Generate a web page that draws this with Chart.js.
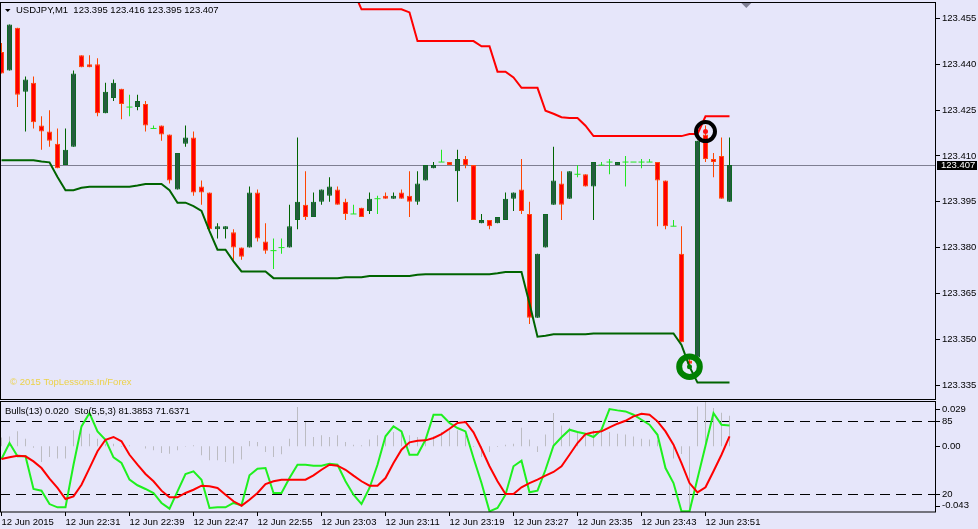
<!DOCTYPE html>
<html>
<head>
<meta charset="utf-8">
<title>USDJPY,M1</title>
<script src="https://cdn.jsdelivr.net/npm/chart.js@4.4.1/dist/chart.umd.min.js"></script>
<style>
  html, body { margin: 0; padding: 0; background: #e6e6fa; }
  #wrap { position: relative; width: 978px; height: 529px; overflow: hidden; }
  canvas { position: absolute; left: 0; }
  #main { top: 0; }
  #sub { top: 400px; }
</style>
</head>
<body>
<div id="wrap">
  <canvas id="main" width="978" height="400"></canvas>
  <canvas id="sub" width="978" height="129"></canvas>
</div>
<script>
// USDJPY 1-minute bars, 12 Jun 2015 22:23 .. 23:54
const symbol = "USDJPY,M1";

const opens = [
  123.444, 123.438, 123.452, 123.431, 123.434, 123.420, 123.418, 123.414, 123.407, 123.413,
  123.443, 123.440, 123.440, 123.424, 123.429, 123.432, 123.426, 123.426, 123.427, 123.419,
  123.420, 123.417, 123.399, 123.414, 123.416, 123.400, 123.398, 123.386, 123.386, 123.385,
  123.380, 123.380, 123.398, 123.382, 123.379, 123.380, 123.380, 123.389, 123.394, 123.390,
  123.395, 123.397, 123.399, 123.395, 123.391, 123.393, 123.392, 123.396, 123.397, 123.396,
  123.398, 123.397, 123.395, 123.402, 123.406, 123.408, 123.408, 123.405, 123.409, 123.407,
  123.388, 123.389, 123.388, 123.389, 123.396, 123.399, 123.391, 123.357, 123.380, 123.394,
  123.401, 123.396, 123.404, 123.404, 123.400, 123.407, 123.408, 123.407, 123.408, 123.408,
  123.408, 123.408, 123.408, 123.402, 123.387, 123.378, 123.343, 123.344, 123.417, 123.409,
  123.410, 123.395
];
const highs = [
  123.447, 123.453, 123.452, 123.436, 123.436, 123.423, 123.425, 123.419, 123.419, 123.438,
  123.443, 123.443, 123.442, 123.434, 123.435, 123.432, 123.430, 123.430, 123.428, 123.420,
  123.420, 123.417, 123.411, 123.420, 123.418, 123.402, 123.398, 123.388, 123.387, 123.386,
  123.380, 123.400, 123.399, 123.388, 123.383, 123.383, 123.394, 123.416, 123.405, 123.398,
  123.399, 123.403, 123.400, 123.396, 123.394, 123.393, 123.398, 123.397, 123.398, 123.398,
  123.399, 123.405, 123.405, 123.407, 123.408, 123.412, 123.408, 123.412, 123.410, 123.407,
  123.391, 123.389, 123.390, 123.398, 123.398, 123.409, 123.395, 123.378, 123.391, 123.413,
  123.405, 123.405, 123.407, 123.404, 123.408, 123.408, 123.409, 123.408, 123.410, 123.408,
  123.409, 123.409, 123.408, 123.402, 123.389, 123.387, 123.344, 123.415, 123.420, 123.411,
  123.416, 123.416
];
const lows = [
  123.437, 123.438, 123.426, 123.418, 123.419, 123.412, 123.413, 123.406, 123.407, 123.413,
  123.439, 123.439, 123.423, 123.424, 123.428, 123.422, 123.423, 123.425, 123.418, 123.419,
  123.415, 123.401, 123.399, 123.413, 123.397, 123.394, 123.385, 123.383, 123.383, 123.376,
  123.376, 123.380, 123.382, 123.378, 123.373, 123.378, 123.380, 123.386, 123.389, 123.390,
  123.394, 123.395, 123.394, 123.389, 123.391, 123.390, 123.391, 123.391, 123.396, 123.396,
  123.396, 123.390, 123.394, 123.402, 123.406, 123.408, 123.407, 123.395, 123.406, 123.389,
  123.388, 123.386, 123.388, 123.389, 123.392, 123.391, 123.355, 123.357, 123.380, 123.394,
  123.389, 123.396, 123.403, 123.400, 123.389, 123.407, 123.404, 123.407, 123.400, 123.408,
  123.406, 123.408, 123.387, 123.386, 123.387, 123.349, 123.341, 123.343, 123.408, 123.403,
  123.396, 123.395
];
const closes = [
  123.437, 123.453, 123.430, 123.435, 123.421, 123.418, 123.415, 123.406, 123.412, 123.437,
  123.439, 123.439, 123.424, 123.431, 123.434, 123.427, 123.426, 123.428, 123.420, 123.419,
  123.417, 123.402, 123.411, 123.416, 123.398, 123.398, 123.386, 123.387, 123.387, 123.380,
  123.377, 123.398, 123.383, 123.379, 123.379, 123.380, 123.387, 123.395, 123.390, 123.395,
  123.399, 123.400, 123.394, 123.391, 123.391, 123.390, 123.396, 123.396, 123.396, 123.397,
  123.396, 123.395, 123.401, 123.407, 123.407, 123.408, 123.407, 123.409, 123.407, 123.389,
  123.389, 123.387, 123.390, 123.396, 123.398, 123.392, 123.357, 123.378, 123.391, 123.402,
  123.394, 123.405, 123.404, 123.400, 123.408, 123.407, 123.408, 123.408, 123.408, 123.408,
  123.408, 123.408, 123.402, 123.387, 123.387, 123.349, 123.342, 123.415, 123.409, 123.408,
  123.396, 123.407
];

// channel lines
const upperBand = [
  null, null, null, null, null, null, null, null, null, null, null,
  null, null, null, null, null, null, null, null, null, null, null,
  null, null, null, null, null, null, null, null, null, null, null,
  null, null, null, null, null, null, null, null, null, null, null,
  123.464, 123.458, 123.458, 123.458, 123.458, 123.458, 123.458, 123.457,
  123.4476, 123.4476, 123.4476, 123.4476, 123.4476, 123.4476, 123.4476, 123.4476,
  123.4459, 123.4459, 123.4376, 123.4376, 123.4357, 123.4323, 123.4323, 123.4323,
  123.4248, 123.4238, 123.4227, 123.4224, 123.4224, 123.4199,
  123.4165, 123.4165, 123.4165, 123.4165, 123.4165, 123.4165,
  123.4165, 123.4165, 123.4165, 123.4165, 123.4165, 123.4165,
  123.4172, 123.4172, 123.423, 123.423, 123.423, 123.423
];
const lowerBand = [
  123.4086, 123.4086, 123.4086, 123.4086, 123.4086, 123.4082, 123.4079, 123.4031, 123.3988, 123.3988,
  123.3996, 123.3999, 123.3999, 123.3999, 123.3999, 123.3999, 123.3999, 123.4003, 123.4008, 123.4008,
  123.4008, 123.3988, 123.3947, 123.3947, 123.3936, 123.392, 123.3854, 123.3793, 123.3793, 123.3755,
  123.3722, 123.3722, 123.3722, 123.3722, 123.370, 123.370, 123.370, 123.370, 123.370, 123.370,
  123.370, 123.370, 123.370, 123.3703, 123.3703, 123.3703, 123.3707, 123.3707, 123.3707, 123.3707,
  123.3707, 123.3707, 123.3711, 123.3713, 123.3713, 123.3713, 123.3713, 123.3713, 123.3713, 123.3713,
  123.3713, 123.3713, 123.3716, 123.372, 123.372, 123.372, 123.3617, 123.3508, 123.3511, 123.3516,
  123.3516, 123.3516, 123.3516, 123.3516, 123.3519, 123.3519, 123.3519, 123.3519, 123.3519, 123.3519,
  123.3519, 123.3519, 123.3519, 123.3519, 123.3519, 123.3481, 123.341, 123.3358, 123.3358, 123.3358,
  123.3358, 123.3358
];

const sellSignal = { bar: 88, price: 123.418 };
const buySignal = { bar: 86, price: 123.341 };

// Bulls(13)
const bulls = [
  0.0057, 0.0065, 0.0098, 0.005, -0.001, -0.0102, -0.007, -0.008, -0.008, 0.0105,
  0.0137, 0.0083, 0.005, 0.0017, 0.0017, -0.0004, 0.0007, 0, -0.0015, -0.0026,
  -0.0044, -0.0048, -0.0026, -0.0003, 0.0007, -0.0059, -0.0092, -0.0092, -0.0102, -0.0113,
  -0.0087, 0.0035, 0.0028, -0.0037, -0.007, -0.0052, 0.005, 0.0257, 0.0159, 0.0061,
  0.0072, 0.0061, 0.0072, 0.0028, 0.0011, 0.0007, 0.0044, 0.0072, 0.0065, 0.0094,
  0.0087, 0.0072, 0.0061, 0.005, 0.0065, 0.0094, 0.0105, 0.0105, 0.0072, -0.0004,
  -0.007, -0.0037, -0.0004, 0.0011, 0.0017, 0.0122, 0.0044, -0.0037, 0.0078, 0.0218,
  0.0137, 0.0122, 0.0087, 0.0083, 0.0105, 0.0122, 0.0094, 0.0083, 0.0078, 0.0065,
  0.005, 0.0044, 0.004, 0, -0.008, -0.005, -0.043, 0.026, 0.029, 0.025,
  0.022, 0.020
];
// Sto(5,5,3)
const stochMain = [
  51.3, 65.6, 53.7, 53.7, 24.5, 23, 11, 8.1, 8.1, 46.2,
  80.5, 92.4, 76, 68.5, 52.8, 47.7, 32.8, 27.8, 24.5, 20.9,
  12, 6.9, 22.4, 37.9, 40.3, 32.8, 7.5, 8.1, 8.1, 12,
  9.9, 36.7, 42.6, 43.2, 20.9, 20.9, 34.3, 46.2, 46.2, 45.3,
  45.3, 47.1, 46.2, 31.4, 19.4, 11, 25.4, 46.2, 71.6, 80.5,
  76, 55.1, 55.1, 68.5, 90.9, 90.9, 83.5, 79, 76, 52.2,
  29.8, 4.5, 7.5, 19.4, 44.8, 49.8, 21.5, 23, 41.7, 63.2,
  70.7, 77.5, 75.4, 73.9, 71, 77.5, 96, 94.8, 93.9, 90.9,
  86.4, 82, 73, 43.2, 29.8, 4.5, 4.5, 33.8, 63.1, 92.4,
  82, 81.3853
];
const stochSignal = [
  51.3, 52.8, 54.2, 53.7, 49.2, 43.2, 33.7, 25.4, 15.5, 17.9,
  28.3, 43.2, 58.2, 68.5, 71, 67.1, 55.1, 46.2, 37.9, 31.4,
  23, 17, 17, 20.9, 23.8, 27.4, 26.9, 25.4, 19.4, 13.5,
  9.5, 14.9, 20.9, 28.9, 31.4, 32.8, 32.8, 32.8, 32.8, 36.7,
  41.7, 46.2, 45.3, 41.7, 36.4, 31.4, 27.4, 27.4, 34.3, 47.7,
  59.6, 66.2, 67.7, 68, 70.1, 73.6, 78.4, 83.5, 84.4, 75.2,
  60.5, 44.8, 31.4, 20, 20, 26, 29.8, 32.8, 36.4, 39.7,
  44.8, 55.1, 65.6, 73.6, 75.2, 76, 79.6, 82.9, 85.5, 89.5,
  91.8, 90.9, 85, 76, 64.1, 47.7, 29.8, 21.5, 26, 40.3,
  55.1, 71.6371
];
const stochLevels = [85, 20];

const priceTicks = [123.335, 123.350, 123.365, 123.380, 123.395, 123.410, 123.425, 123.440, 123.455];
const labelBars = [0, 8, 16, 24, 32, 40, 48, 56, 64, 72, 80, 88];
const timeLabels = ["12 Jun 2015", "12 Jun 22:31", "12 Jun 22:39", "12 Jun 22:47", "12 Jun 22:55", "12 Jun 23:03",
  "12 Jun 23:11", "12 Jun 23:19", "12 Jun 23:27", "12 Jun 23:35", "12 Jun 23:43", "12 Jun 23:51"];

/* look */
const BG = "#e6e6fa";
const FONT = '"Liberation Sans", Arial, sans-serif';
const X_MIN = -0.1875, X_MAX = 116.8125;

Chart.defaults.font.family = FONT;
Chart.defaults.font.size = 9.5;
Chart.defaults.color = "#000";

const last = closes.length - 1;
const idx = closes.map((c, i) => i);
const kind = i => closes[i] > opens[i] ? "up" : closes[i] < opens[i] ? "down" : "doji";

const wickColor = { up: "#006400", down: "#ff4500", doji: "#22e622" };

// vertical axes: no extra padding for half labels
const noPad = s => { s.paddingTop = 0; s.paddingBottom = 0; };

const fillBg = {
  id: "fillBg",
  beforeDraw(chart) {
    const ctx = chart.ctx;
    ctx.save();
    ctx.fillStyle = BG;
    ctx.fillRect(0, 0, chart.width, chart.height);
    ctx.restore();
  }
};

const mainDecor = {
  id: "mainDecor",
  beforeDatasetsDraw(chart) {
    const { ctx, chartArea: a, scales } = chart;
    const py = Math.round(scales.y.getPixelForValue(closes[last])) + 0.5;
    ctx.save();
    ctx.strokeStyle = "#7f7f92";
    ctx.lineWidth = 1;
    ctx.beginPath();
    ctx.moveTo(a.left, py);
    ctx.lineTo(a.right, py);
    ctx.stroke();
    ctx.font = "9.5px " + FONT;
    ctx.fillStyle = "#ecd24a";
    ctx.textBaseline = "middle";
    ctx.fillText("\u00a9 2015 TopLessons.In/Forex", 10, 382.5);
    ctx.restore();
  },
  afterDraw(chart) {
    const { ctx, chartArea: a, scales } = chart;
    ctx.save();
    ctx.strokeStyle = "#000";
    ctx.lineWidth = 1;
    ctx.strokeRect(a.left + 0.5, a.top + 0.5, a.right - a.left - 1, a.bottom - a.top - 1);

    // header
    ctx.fillStyle = "#000";
    ctx.beginPath();
    ctx.moveTo(5, 9); ctx.lineTo(10.5, 9); ctx.lineTo(7.75, 12);
    ctx.closePath(); ctx.fill();
    ctx.font = "9.5px " + FONT;
    ctx.textBaseline = "middle";
    const ohlc = [opens[last], highs[last], lows[last], closes[last]].map(v => v.toFixed(3)).join(" ");
    ctx.fillText(symbol + "  " + ohlc, 16, 10.5);

    // chart shift marker
    const sx = scales.x.getPixelForValue(last + 2.1);
    ctx.fillStyle = "#808094";
    ctx.beginPath();
    ctx.moveTo(sx - 5, a.top + 1); ctx.lineTo(sx + 5, a.top + 1); ctx.lineTo(sx, a.top + 6);
    ctx.closePath(); ctx.fill();

    // last price box
    const py = Math.round(scales.y.getPixelForValue(closes[last]));
    ctx.fillStyle = "#000";
    ctx.fillRect(a.right + 1, py - 4, 40, 9);
    ctx.fillStyle = "#fff";
    ctx.font = "9.5px " + FONT;
    ctx.fillText(closes[last].toFixed(3), a.right + 5, py + 0.5);
    ctx.restore();
  }
};

const mainChart = new Chart(document.getElementById("main"), {
  type: "bar",
  data: {
    datasets: [
      {
        type: "scatter", order: 0,
        data: [{ x: sellSignal.bar, y: sellSignal.price }, { x: buySignal.bar, y: buySignal.price }],
        pointStyle: "circle",
        pointRadius: [2.5, 2.5],
        pointBackgroundColor: ["#ff1010", "#008000"],
        pointBorderWidth: 0
      },
      {
        type: "scatter", order: 0,
        data: [{ x: sellSignal.bar, y: sellSignal.price }, { x: buySignal.bar, y: buySignal.price }],
        pointStyle: "circle",
        pointRadius: [9.5, 10.3],
        pointBorderWidth: [4, 6],
        pointBorderColor: ["#000", "#008000"],
        pointBackgroundColor: "rgba(0,0,0,0)"
      },
      {
        type: "line", order: 1,
        data: idx.map(i => ({ x: i, y: upperBand[i] })),
        borderColor: "#ff0000", borderWidth: 2, pointRadius: 0, tension: 0, spanGaps: false
      },
      {
        type: "line", order: 1,
        data: idx.map(i => ({ x: i, y: lowerBand[i] })),
        borderColor: "#006400", borderWidth: 2, pointRadius: 0, tension: 0
      },
      {
        type: "scatter", order: 2,
        data: idx.filter(i => kind(i) === "doji").map(i => ({ x: i, y: closes[i] })),
        pointStyle: "line", pointRadius: 3, pointBorderWidth: 1, pointBorderColor: wickColor.doji
      },
      {
        type: "bar", order: 2,
        data: idx.filter(i => kind(i) !== "doji").map(i => ({ x: i, y: [opens[i], closes[i]] })),
        grouped: false, barThickness: 5, inflateAmount: 0, borderSkipped: false, borderWidth: 1,
        backgroundColor: c => kind(c.raw.x) === "up" ? "#255c3e" : "#ff0000",
        borderColor: c => kind(c.raw.x) === "up" ? "#0d6a22" : "#ff4a10"
      },
      {
        type: "bar", order: 3,
        data: idx.map(i => ({ x: i, y: [lows[i], highs[i]] })),
        grouped: false, barThickness: 1, inflateAmount: 0, borderWidth: 0,
        backgroundColor: c => wickColor[kind(c.raw.x)]
      }
    ]
  },
  options: {
    responsive: false, animation: false, devicePixelRatio: 1, events: [],
    layout: { autoPadding: false, padding: { top: 2, bottom: 0, left: 0, right: 0 } },
    plugins: { legend: { display: false }, tooltip: { enabled: false } },
    scales: {
      x: { type: "linear", display: false, min: X_MIN, max: X_MAX, offset: false, grid: { offset: false } },
      y: {
        type: "linear", position: "right",
        min: 123.3301, max: 123.4604,
        afterBuildTicks: s => { s.ticks = priceTicks.map(v => ({ value: v })); },
        afterFit: s => { s.width = 42; noPad(s); },
        ticks: { callback: v => v.toFixed(3), padding: 2, color: "#000" },
        grid: { drawOnChartArea: false, tickLength: 4, color: "#000" },
        border: { display: false }
      }
    }
  },
  plugins: [fillBg, mainDecor]
});

const subDecor = {
  id: "subDecor",
  beforeDatasetsDraw(chart) {
    const { ctx, chartArea: a, scales } = chart;
    ctx.save();
    ctx.strokeStyle = "#000";
    ctx.lineWidth = 1;
    ctx.setLineDash([10, 6]);
    stochLevels.forEach(l => {
      const y = Math.round(scales.ys.getPixelForValue(l)) + 0.5;
      ctx.beginPath(); ctx.moveTo(a.left, y); ctx.lineTo(a.right, y); ctx.stroke();
    });
    ctx.restore();
  },
  afterDraw(chart) {
    const { ctx, chartArea: a, scales } = chart;
    ctx.save();
    ctx.strokeStyle = "#000";
    ctx.lineWidth = 1;
    ctx.strokeRect(0.5, 1.5, a.right - 1, a.bottom - 1.5);

    ctx.fillStyle = "#000";
    ctx.font = "9.5px " + FONT;
    ctx.textBaseline = "middle";
    ctx.fillText("Bulls(13) " + bulls[last].toFixed(3) + "  Sto(5,5,3) " +
      stochMain[last].toFixed(4) + " " + stochSignal[last].toFixed(4), 5, 11.5);

    const yb = scales.yb;
    const marks = [
      { v: yb.max, scale: yb, text: yb.max.toFixed(3) },
      { v: 0, scale: yb, text: "0.00" },
      { v: yb.min, scale: yb, text: yb.min.toFixed(3) }
    ].concat(stochLevels.map(l => ({ v: l, scale: scales.ys, text: String(l) })));
    marks.forEach(m => {
      const y = m.scale.getPixelForValue(m.v);
      const ty = Math.min(Math.max(y, a.top + 7), a.bottom - 6.5);
      ctx.beginPath();
      ctx.moveTo(a.right, Math.round(ty) + 0.5);
      ctx.lineTo(a.right + 4, Math.round(ty) + 0.5);
      ctx.stroke();
      ctx.fillText(m.text, a.right + 6, ty);
    });
    ctx.restore();
  }
};

const subChart = new Chart(document.getElementById("sub"), {
  type: "bar",
  data: {
    datasets: [
      {
        type: "line", order: 0, yAxisID: "ys",
        data: idx.map(i => ({ x: i, y: stochSignal[i] })),
        borderColor: "#ff0000", borderWidth: 2, pointRadius: 0, tension: 0
      },
      {
        type: "line", order: 1, yAxisID: "ys",
        data: idx.map(i => ({ x: i, y: stochMain[i] })),
        borderColor: "#1ef01e", borderWidth: 2, pointRadius: 0, tension: 0
      },
      {
        type: "bar", order: 2, yAxisID: "yb",
        data: idx.map(i => ({ x: i, y: bulls[i] })),
        grouped: false, barThickness: 1, inflateAmount: 0, borderWidth: 0,
        backgroundColor: "#bcbcc2"
      }
    ]
  },
  options: {
    responsive: false, animation: false, devicePixelRatio: 1, events: [],
    layout: { autoPadding: false, padding: { top: 2, bottom: 0, left: 0, right: 42 } },
    plugins: { legend: { display: false }, tooltip: { enabled: false } },
    scales: {
      x: {
        type: "linear", min: X_MIN, max: X_MAX, offset: false,
        afterBuildTicks: s => { s.ticks = labelBars.map(v => ({ value: v })); },
        afterFit: s => { s.height = 17; s.paddingLeft = 0; s.paddingRight = 0; },
        ticks: { callback: (v, k) => timeLabels[k], align: "start", autoSkip: false, maxRotation: 0, padding: 1, color: "#000" },
        grid: { drawOnChartArea: false, tickLength: 4, color: "#000", offset: false },
        border: { display: false }
      },
      yb: { type: "linear", display: false, position: "right", min: -0.043, max: 0.029 },
      ys: { type: "linear", display: false, position: "right", min: 3.9, max: 102.3 }
    }
  },
  plugins: [fillBg, subDecor]
});
</script>
</body>
</html>
